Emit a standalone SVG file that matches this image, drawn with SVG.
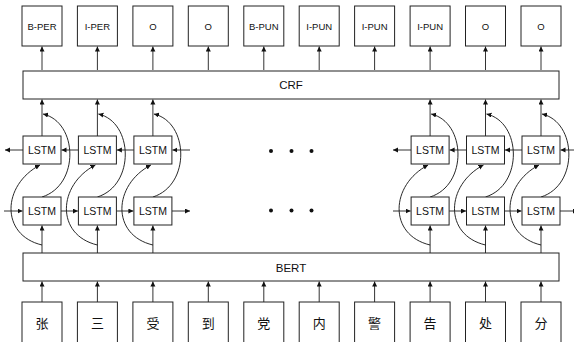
<svg xmlns="http://www.w3.org/2000/svg" width="574" height="342" viewBox="0 0 574 342">
<style>
.box{fill:#fff;stroke:#222;stroke-width:1}
.lbl{font-family:"Liberation Sans",Arial,sans-serif;font-size:9.5px;fill:#111;text-anchor:middle}
.lstm{font-family:"Liberation Sans",Arial,sans-serif;font-size:10.5px;fill:#111;text-anchor:middle}
.big{font-family:"Liberation Sans",Arial,sans-serif;font-size:11.5px;fill:#111;text-anchor:middle}
.zh{font-family:"Noto Sans CJK SC",sans-serif;font-size:13px;fill:#111;text-anchor:middle}
.ln{stroke:#333;stroke-width:1;fill:none;marker-end:url(#ah)}
.cv{stroke:#111;stroke-width:0.9;fill:none;marker-end:url(#ah)}
</style>
<defs>
<marker id="ah" markerUnits="userSpaceOnUse" markerWidth="6" markerHeight="6" refX="5" refY="2.5" orient="auto">
<path d="M0,0 L5,2.5 L0,5 Z" fill="#111"/>
</marker>
</defs>
<rect width="574" height="342" fill="#fff"/>

<g id="connectors">
<!-- CRF to labels -->
<path class="ln" d="M42,70 V46.5"/>
<path class="ln" d="M97.4,70 V46.5"/>
<path class="ln" d="M152.9,70 V46.5"/>
<path class="ln" d="M208.3,70 V46.5"/>
<path class="ln" d="M263.8,70 V46.5"/>
<path class="ln" d="M319.2,70 V46.5"/>
<path class="ln" d="M374.6,70 V46.5"/>
<path class="ln" d="M430.1,70 V46.5"/>
<path class="ln" d="M485.5,70 V46.5"/>
<path class="ln" d="M541,70 V46.5"/>
<!-- chars to BERT -->
<path class="ln" d="M42,302 V281.5"/>
<path class="ln" d="M97.4,302 V281.5"/>
<path class="ln" d="M152.9,302 V281.5"/>
<path class="ln" d="M208.3,302 V281.5"/>
<path class="ln" d="M263.8,302 V281.5"/>
<path class="ln" d="M319.2,302 V281.5"/>
<path class="ln" d="M374.6,302 V281.5"/>
<path class="ln" d="M430.1,302 V281.5"/>
<path class="ln" d="M485.5,302 V281.5"/>
<path class="ln" d="M541,302 V281.5"/>
<!-- BERT to lower LSTM -->
<path class="ln" d="M42,253 V225.5"/>
<path class="ln" d="M97.4,253 V225.5"/>
<path class="ln" d="M152.9,253 V225.5"/>
<path class="ln" d="M430.1,253 V225.5"/>
<path class="ln" d="M485.5,253 V225.5"/>
<path class="ln" d="M541,253 V225.5"/>
<!-- upper LSTM to CRF -->
<path class="ln" d="M42,136 V99.5"/>
<path class="ln" d="M97.4,136 V99.5"/>
<path class="ln" d="M152.9,136 V99.5"/>
<path class="ln" d="M430.1,136 V99.5"/>
<path class="ln" d="M485.5,136 V99.5"/>
<path class="ln" d="M541,136 V99.5"/>
<!-- backward row (leftward) -->
<path class="ln" d="M23,150 H5"/>
<path class="ln" d="M78.4,150 H61.5"/>
<path class="ln" d="M133.9,150 H116.9"/>
<path class="ln" d="M190,150 H172.4"/>
<path class="ln" d="M411.1,150 H393"/>
<path class="ln" d="M466.5,150 H449.6"/>
<path class="ln" d="M522,150 H505"/>
<path class="ln" d="M576,150 H560.5"/>
<!-- forward row (rightward) -->
<path class="ln" d="M4,211 H22.5"/>
<path class="ln" d="M61,211 H77.9"/>
<path class="ln" d="M116.4,211 H133.4"/>
<path class="ln" d="M171.9,211 H190"/>
<path class="ln" d="M393,211 H410.6"/>
<path class="ln" d="M449.1,211 H466"/>
<path class="ln" d="M504.5,211 H521.5"/>
<path class="ln" d="M560,211 H578"/>
<!-- curves: input to backward LSTM -->
<path class="cv" d="M42,245 C0,235 2,185 40,165"/>
<path class="cv" d="M97.4,245 C55.4,235 57.4,185 95.4,165"/>
<path class="cv" d="M152.9,245 C110.9,235 112.9,185 150.9,165"/>
<path class="cv" d="M430.1,245 C388.1,235 390.1,185 428.1,165"/>
<path class="cv" d="M485.5,245 C443.5,235 445.5,185 483.5,165"/>
<path class="cv" d="M541,245 C499,235 501,185 539,165"/>
<!-- curves: forward LSTM output to CRF -->
<path class="cv" d="M42,197 C80,185 78,122 43,114"/>
<path class="cv" d="M97.4,197 C135.4,185 133.4,122 98.4,114"/>
<path class="cv" d="M152.9,197 C190.9,185 188.9,122 153.9,114"/>
<path class="cv" d="M430.1,197 C468.1,185 466.1,122 431.1,114"/>
<path class="cv" d="M485.5,197 C523.5,185 521.5,122 486.5,114"/>
<path class="cv" d="M541,197 C579,185 577,122 542,114"/>
</g>

<g id="label-0"><rect class="box" x="22" y="6" width="40" height="40"/><text class="lbl" x="42" y="29.5">B-PER</text></g>
<g id="label-1"><rect class="box" x="77.4" y="6" width="40" height="40"/><text class="lbl" x="97.4" y="29.5">I-PER</text></g>
<g id="label-2"><rect class="box" x="132.9" y="6" width="40" height="40"/><text class="lbl" x="152.9" y="29.5">O</text></g>
<g id="label-3"><rect class="box" x="188.3" y="6" width="40" height="40"/><text class="lbl" x="208.3" y="29.5">O</text></g>
<g id="label-4"><rect class="box" x="243.8" y="6" width="40" height="40"/><text class="lbl" x="263.8" y="29.5">B-PUN</text></g>
<g id="label-5"><rect class="box" x="299.2" y="6" width="40" height="40"/><text class="lbl" x="319.2" y="29.5">I-PUN</text></g>
<g id="label-6"><rect class="box" x="354.6" y="6" width="40" height="40"/><text class="lbl" x="374.6" y="29.5">I-PUN</text></g>
<g id="label-7"><rect class="box" x="410.1" y="6" width="40" height="40"/><text class="lbl" x="430.1" y="29.5">I-PUN</text></g>
<g id="label-8"><rect class="box" x="465.5" y="6" width="40" height="40"/><text class="lbl" x="485.5" y="29.5">O</text></g>
<g id="label-9"><rect class="box" x="521" y="6" width="40" height="40"/><text class="lbl" x="541" y="29.5">O</text></g>

<g id="crf"><rect class="box" x="23" y="71" width="536" height="28"/><text class="big" x="291" y="89">CRF</text></g>

<g id="lstm-b0"><rect class="box" x="23" y="136" width="38" height="28"/><text class="lstm" x="42" y="154">LSTM</text></g>
<g id="lstm-b1"><rect class="box" x="78.4" y="136" width="38" height="28"/><text class="lstm" x="97.4" y="154">LSTM</text></g>
<g id="lstm-b2"><rect class="box" x="133.9" y="136" width="38" height="28"/><text class="lstm" x="152.9" y="154">LSTM</text></g>
<g id="lstm-b7"><rect class="box" x="411.1" y="136" width="38" height="28"/><text class="lstm" x="430.1" y="154">LSTM</text></g>
<g id="lstm-b8"><rect class="box" x="466.5" y="136" width="38" height="28"/><text class="lstm" x="485.5" y="154">LSTM</text></g>
<g id="lstm-b9"><rect class="box" x="522" y="136" width="38" height="28"/><text class="lstm" x="541" y="154">LSTM</text></g>

<g id="lstm-f0"><rect class="box" x="23" y="197" width="38" height="28"/><text class="lstm" x="42" y="215">LSTM</text></g>
<g id="lstm-f1"><rect class="box" x="78.4" y="197" width="38" height="28"/><text class="lstm" x="97.4" y="215">LSTM</text></g>
<g id="lstm-f2"><rect class="box" x="133.9" y="197" width="38" height="28"/><text class="lstm" x="152.9" y="215">LSTM</text></g>
<g id="lstm-f7"><rect class="box" x="411.1" y="197" width="38" height="28"/><text class="lstm" x="430.1" y="215">LSTM</text></g>
<g id="lstm-f8"><rect class="box" x="466.5" y="197" width="38" height="28"/><text class="lstm" x="485.5" y="215">LSTM</text></g>
<g id="lstm-f9"><rect class="box" x="522" y="197" width="38" height="28"/><text class="lstm" x="541" y="215">LSTM</text></g>

<g id="ellipsis" fill="#111">
<circle cx="271" cy="151" r="2"/><circle cx="291.5" cy="151" r="2"/><circle cx="311.5" cy="151" r="2"/>
<circle cx="271" cy="210.5" r="2"/><circle cx="291.5" cy="210.5" r="2"/><circle cx="311.5" cy="210.5" r="2"/>
</g>

<g id="bert"><rect class="box" x="23" y="253" width="536" height="28"/><text class="big" x="291" y="271.5">BERT</text></g>

<g id="char-0"><rect class="box" x="22" y="302" width="40" height="42"/><text class="zh" x="42" y="328">张</text></g>
<g id="char-1"><rect class="box" x="77.4" y="302" width="40" height="42"/><text class="zh" x="97.4" y="328">三</text></g>
<g id="char-2"><rect class="box" x="132.9" y="302" width="40" height="42"/><text class="zh" x="152.9" y="328">受</text></g>
<g id="char-3"><rect class="box" x="188.3" y="302" width="40" height="42"/><text class="zh" x="208.3" y="328">到</text></g>
<g id="char-4"><rect class="box" x="243.8" y="302" width="40" height="42"/><text class="zh" x="263.8" y="328">党</text></g>
<g id="char-5"><rect class="box" x="299.2" y="302" width="40" height="42"/><text class="zh" x="319.2" y="328">内</text></g>
<g id="char-6"><rect class="box" x="354.6" y="302" width="40" height="42"/><text class="zh" x="374.6" y="328">警</text></g>
<g id="char-7"><rect class="box" x="410.1" y="302" width="40" height="42"/><text class="zh" x="430.1" y="328">告</text></g>
<g id="char-8"><rect class="box" x="465.5" y="302" width="40" height="42"/><text class="zh" x="485.5" y="328">处</text></g>
<g id="char-9"><rect class="box" x="521" y="302" width="40" height="42"/><text class="zh" x="541" y="328">分</text></g>
</svg>
